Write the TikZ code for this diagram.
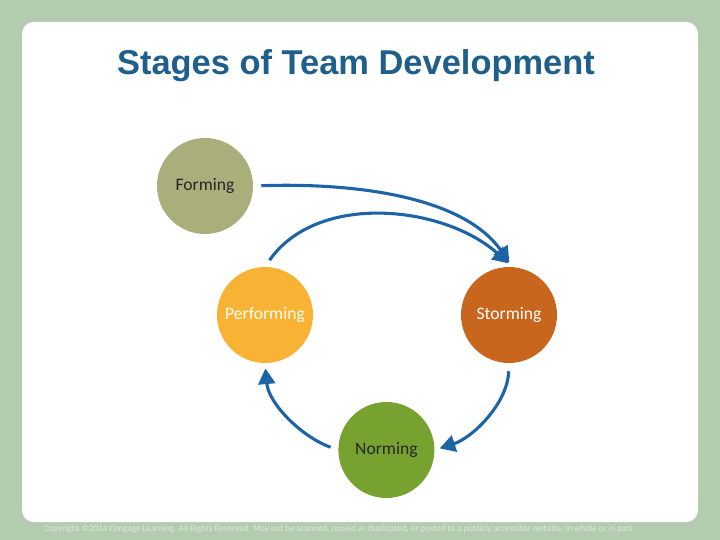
\documentclass[tikz,border=0pt]{standalone}
\usepackage{fontspec}
\setmainfont{Carlito}
\newfontfamily\titlefont{Liberation Sans}
\usetikzlibrary{arrows.meta,positioning}
\definecolor{slideGreen}{HTML}{B3CCB0}
\definecolor{slideCopy}{HTML}{DDE8DA}
\definecolor{titleBlue}{HTML}{1F5F8C}
\definecolor{arrowBlue}{HTML}{1C64A6}
\definecolor{stageForming}{HTML}{A9AE7A}
\definecolor{stageStorming}{HTML}{C8661D}
\definecolor{stagePerforming}{HTML}{F8B334}
\definecolor{stageNorming}{HTML}{77A22F}

\begin{document}
\begin{tikzpicture}[
    >={Triangle[length=3.9mm, width=4.2mm]},
    stage/.style={circle, fill=#1, draw=none, minimum size=24mm, inner sep=0pt,
                  font=\fontsize{12.5}{14}\selectfont},
    cycle/.style={->, draw=arrowBlue, line width=2.2pt, shorten <=2mm, shorten >=1.3mm},
]

% slide background
\fill[slideGreen] (0,0) rectangle (18,13.5);
\fill[white, rounded corners=3mm] (0.55,0.45) rectangle (17.45,12.95);
\useasboundingbox (0,0) rectangle (18,13.5);

\node[font=\titlefont\bfseries\fontsize{24.5}{28}\selectfont, text=titleBlue] (title)
    at (8.9,11.85) {Stages of Team Development};

% the four stages
\node[stage=stageForming, text=black!85] (forming) at (5.125,8.85) {Forming};
\node[stage=stagePerforming, text=white!95!yellow] (performing) at (6.625,5.625) {Performing};
\node[stage=stageStorming, text=white] (storming) at (12.725,5.625) {Storming};
\node[stage=stageNorming, text=black!85] (norming) at (9.66,2.25) {Norming};

% cycle arrows
\draw[cycle] (forming.east) to[out=2, in=125, looseness=0.85] (storming.86);
\draw[cycle] (performing.north) to[out=55, in=138, looseness=0.95] (storming.86);
\draw[cycle] (storming.south) to[out=-92, in=18, looseness=0.9] (norming.east);
\draw[cycle] (norming.west) to[out=160, in=-85, looseness=0.9] (performing.south);

\node[font=\fontsize{6.4}{7.5}\selectfont, text=slideCopy] (copy) at (8.49,0.275)
    {Copyright ©2014 Cengage Learning. All Rights Reserved. May not be scanned, copied or duplicated, or posted to a publicly accessible website, in whole or in part.};
\end{tikzpicture}
\end{document}
